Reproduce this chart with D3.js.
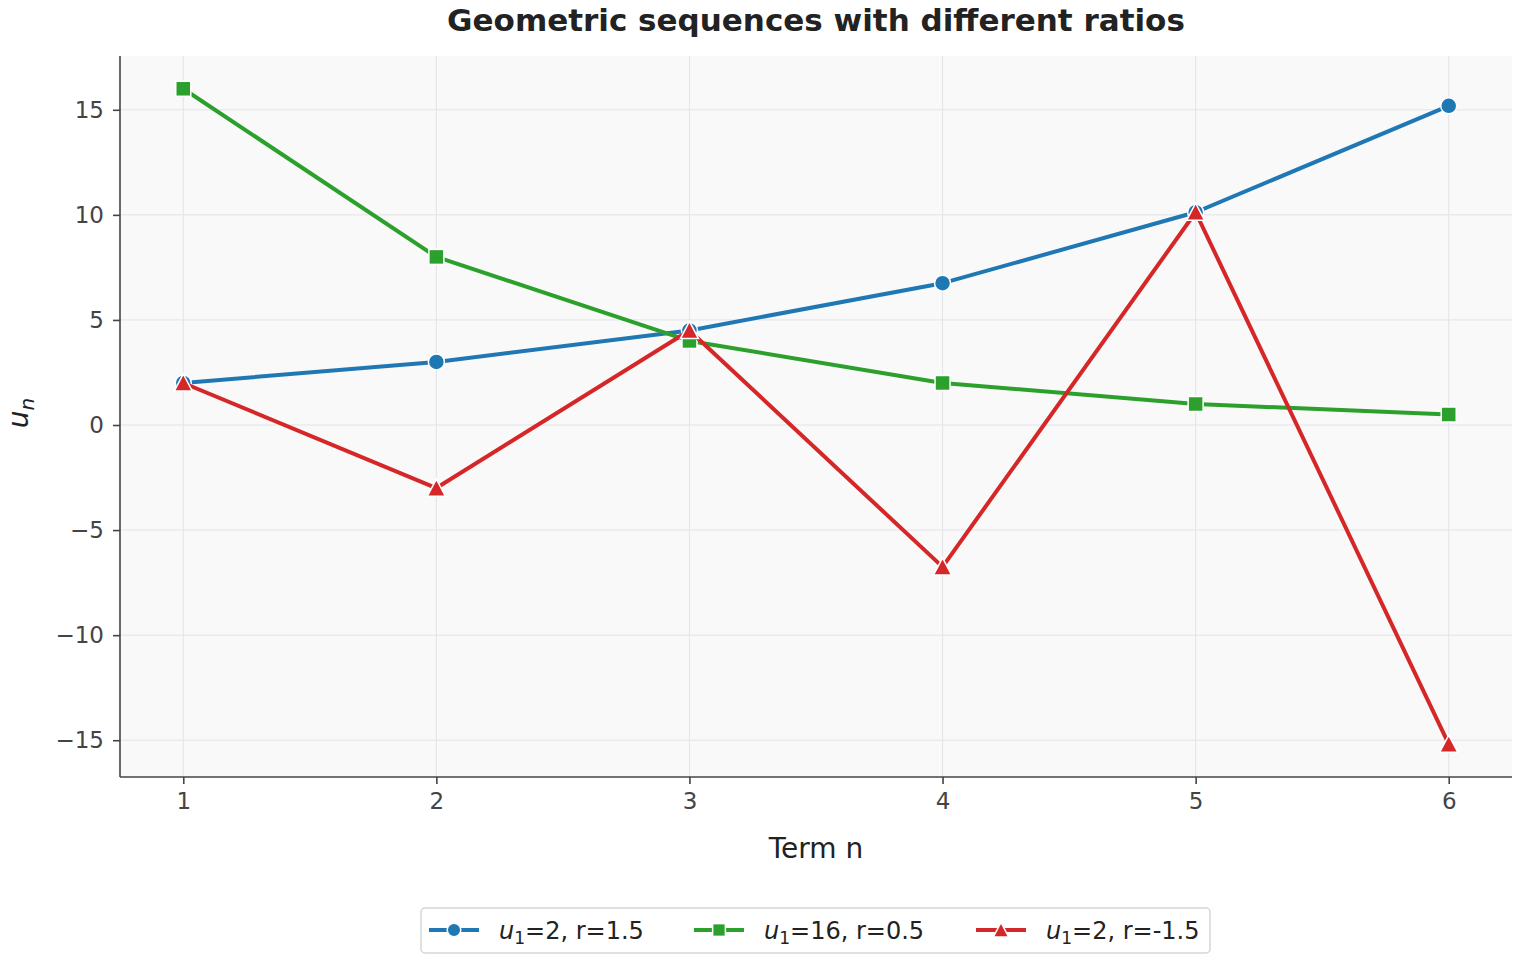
<!DOCTYPE html>
<html lang="en">
<head>
  <meta charset="UTF-8" />
  <title>Geometric sequences with different ratios</title>
  <style>
    body { margin: 0; background: white; font-family: 'DejaVu Sans', sans-serif; }
    svg { display: block; }
  </style>
  <script src="https://d3js.org/d3.v7.min.js"></script>
</head>
<body>
  <div id="chart"></div>
  <script>
    const terms = [1, 2, 3, 4, 5, 6];
    const seriesA = [2, 3, 4.5, 6.75, 10.125, 15.1875];
    const seriesB = [16, 8, 4, 2, 1, 0.5];
    const seriesC = [2, -3, 4.5, -6.75, 10.125, -15.1875];
    const xTicks = [1, 2, 3, 4, 5, 6];
    const yTicks = [-15, -10, -5, 0, 5, 10, 15];

    const series = [
      { u1: "2", r: "1.5", values: seriesA, color: "#1f77b4", marker: "circle" },
      { u1: "16", r: "0.5", values: seriesB, color: "#2ca02c", marker: "square" },
      { u1: "2", r: "-1.5", values: seriesC, color: "#d62728", marker: "triangle" }
    ];

    const width = 1520;
    const height = 960;
    const margin = { top: 56, right: 8, bottom: 183, left: 120 };

    const svg = d3.select("#chart").append("svg")
      .attr("width", width)
      .attr("height", height);

    const x = d3.scaleLinear().domain([0.75, 6.25]).range([margin.left, width - margin.right]);
    const y = d3.scaleLinear().domain([-16.75, 17.56]).range([height - margin.bottom, margin.top]);

    // plot background
    svg.append("rect")
      .attr("x", margin.left).attr("y", margin.top)
      .attr("width", width - margin.left - margin.right)
      .attr("height", height - margin.top - margin.bottom)
      .attr("fill", "#f9f9f9");

    // grid
    const grid = svg.append("g").attr("stroke", "#e3e3e8").attr("stroke-width", 1);
    grid.selectAll("line.gx").data(xTicks).enter().append("line")
      .attr("x1", d => x(d)).attr("x2", d => x(d))
      .attr("y1", margin.top).attr("y2", height - margin.bottom);
    grid.selectAll("line.gy").data(yTicks).enter().append("line")
      .attr("y1", d => y(d)).attr("y2", d => y(d))
      .attr("x1", margin.left).attr("x2", width - margin.right);

    // axes
    const xAxis = svg.append("g")
      .attr("transform", `translate(0,${height - margin.bottom})`)
      .call(d3.axisBottom(x).tickValues(xTicks).tickSize(7).tickPadding(9).tickFormat(d3.format("d")));
    const yAxis = svg.append("g")
      .attr("transform", `translate(${margin.left},0)`)
      .call(d3.axisLeft(y).tickValues(yTicks).tickSize(7).tickPadding(9)
        .tickFormat(d => d < 0 ? "\u2212" + Math.abs(d) : d));
    [xAxis, yAxis].forEach(a => {
      a.attr("font-size", 23).attr("font-family", "'DejaVu Sans', sans-serif");
      a.selectAll(".domain").remove();
      a.selectAll(".tick line").attr("stroke", "#444").attr("stroke-width", 1.6);
      a.selectAll(".tick text").attr("fill", "#444");
    });
    // spines
    svg.append("line")
      .attr("x1", margin.left).attr("x2", width - margin.right)
      .attr("y1", height - margin.bottom).attr("y2", height - margin.bottom)
      .attr("stroke", "#444").attr("stroke-width", 1.6);
    svg.append("line")
      .attr("x1", margin.left).attr("x2", margin.left)
      .attr("y1", margin.top).attr("y2", height - margin.bottom)
      .attr("stroke", "#444").attr("stroke-width", 1.6);

    function drawMarker(g, type, color, cx, cy, s) {
      if (type === "circle") {
        g.append("circle").attr("cx", cx).attr("cy", cy).attr("r", 8 * s)
          .attr("fill", color).attr("stroke", "white").attr("stroke-width", 1.5);
      } else if (type === "square") {
        const h = 7.5 * s;
        g.append("rect").attr("x", cx - h).attr("y", cy - h).attr("width", 2 * h).attr("height", 2 * h)
          .attr("fill", color).attr("stroke", "white").attr("stroke-width", 1.5);
      } else {
        const h = 9 * s;
        g.append("path")
          .attr("d", `M${cx},${cy - h}L${cx + h},${cy + h * 0.9}L${cx - h},${cy + h * 0.9}Z`)
          .attr("fill", color).attr("stroke", "white").attr("stroke-width", 1.5);
      }
    }

    const line = d3.line().x((d, i) => x(terms[i])).y(d => y(d));

    series.forEach(s => {
      const g = svg.append("g");
      g.append("path")
        .attr("d", line(s.values))
        .attr("fill", "none")
        .attr("stroke", s.color)
        .attr("stroke-width", 4)
        .attr("stroke-linejoin", "round");
      s.values.forEach((v, i) => drawMarker(g, s.marker, s.color, x(terms[i]), y(v), 1));
    });

    // title
    svg.append("text")
      .attr("x", (margin.left + width - margin.right) / 2).attr("y", 31)
      .attr("text-anchor", "middle")
      .attr("font-size", 31).attr("font-weight", "bold").attr("fill", "#222")
      .text("Geometric sequences with different ratios");

    // axis labels
    svg.append("text")
      .attr("x", (margin.left + width - margin.right) / 2).attr("y", 858)
      .attr("text-anchor", "middle")
      .attr("font-size", 28).attr("fill", "#222")
      .text("Term n");
    const yl = svg.append("text")
      .attr("transform", `translate(28,${y(0) - 12}) rotate(-90)`)
      .attr("text-anchor", "middle")
      .attr("font-size", 28).attr("fill", "#222")
      .attr("font-style", "italic");
    yl.append("tspan").text("u");
    yl.append("tspan").attr("font-size", 20).attr("dy", 6).text("n");

    // legend
    const legend = svg.append("g").attr("transform", "translate(421,908)");
    legend.append("rect")
      .attr("x", 0).attr("y", 0).attr("width", 789).attr("height", 45)
      .attr("rx", 4)
      .attr("fill", "white").attr("stroke", "#d6d6d6").attr("stroke-width", 1.5);
    const itemX = [8, 273, 555];
    series.forEach((s, i) => {
      const g = legend.append("g").attr("transform", `translate(${itemX[i]},22)`);
      g.append("line").attr("x1", 0).attr("x2", 50).attr("y1", 0).attr("y2", 0)
        .attr("stroke", s.color).attr("stroke-width", 4);
      drawMarker(g, s.marker, s.color, 25, 0, 0.85);
      const t = g.append("text").attr("x", 70).attr("y", 9)
        .attr("font-size", 24).attr("fill", "#222");
      t.append("tspan").attr("font-style", "italic").text("u");
      t.append("tspan").attr("font-size", 17).attr("dy", 5).text("1");
      t.append("tspan").attr("dy", -5).text(`=${s.u1}, r=${s.r}`);
    });
  </script>
</body>
</html>
